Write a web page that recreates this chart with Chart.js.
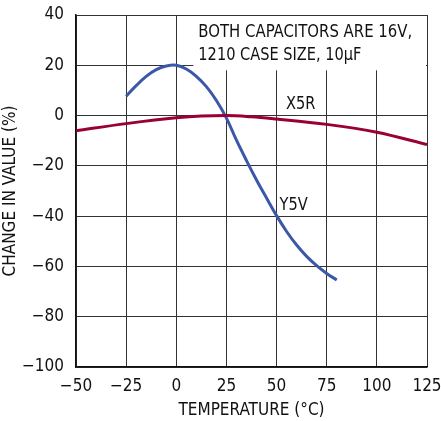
<!DOCTYPE html>
<html>
<head>
<meta charset="utf-8">
<script src="https://cdn.jsdelivr.net/npm/chart.js@4"></script>
<style>
  html, body { margin: 0; padding: 0; background: #fff; }
  #wrap { width: 441px; height: 421px; }
</style>
</head>
<body>
<div id="wrap"><canvas id="cap-chart" width="441" height="421"></canvas></div>
<script>
// temperature (C) and change in value (%)
var x5rTemp = [-50, -25, 0, 12.5, 25, 37.5, 50, 75, 100, 125];
var x5rVal  = [-6.0, -3.2, -0.9, -0.2, 0, -0.5, -1.4, -3.5, -6.6, -11.5];

var y5vTemp = [-25, -20, -15, -10, -5, 0, 5, 10, 15, 20, 25, 30, 35, 40, 45, 50, 55, 60, 65, 70, 75, 80];
var y5vVal  = [7.7, 11.9, 15.6, 18.3, 19.7, 20.0, 18.5, 15.6, 11.5, 6.0, -1.0, -9.8, -17.9, -25.6, -32.8, -39.8, -46.1, -51.5, -56.0, -59.7, -62.8, -65.4];

var xTicks = [-50, -25, 0, 25, 50, 75, 100, 125];
var yTicks = [-100, -80, -60, -40, -20, 0, 20, 40];

var noteLines = ['BOTH CAPACITORS ARE 16V,', '1210 CASE SIZE, 10\u00b5F'];

var FONT = "'DejaVu Sans Condensed', 'Liberation Sans Narrow', sans-serif";

function pts(xs, ys) {
    var out = [];
    for (var i = 0; i < xs.length; i++) out.push({x: xs[i], y: ys[i]});
    return out;
}

function minus(v) {
    return String(v).replace('-', '\u2212');
}

// draw text squeezed a little sideways, the reference uses a condensed face
function narrowText(ctx, txt, x, y, sx) {
    ctx.save();
    ctx.translate(x, y);
    ctx.scale(sx, 1);
    ctx.fillText(txt, 0, 0);
    ctx.restore();
}

// white note box + curve labels
var notes = {
    id: 'notes',
    beforeDatasetsDraw: function (chart) {
        var ctx = chart.ctx, xs = chart.scales.x, ys = chart.scales.y, a = chart.chartArea;
        var l = xs.getPixelForValue(8.5), t = a.top + 1;
        var b = ys.getPixelForValue(18);
        ctx.save();
        ctx.fillStyle = '#fff';
        ctx.fillRect(l, t, a.right - 1 - l, b - t);
        ctx.restore();
    },
    afterDatasetsDraw: function (chart) {
        var ctx = chart.ctx, xs = chart.scales.x, ys = chart.scales.y;
        ctx.save();
        ctx.fillStyle = '#111';
        ctx.font = '18px ' + FONT;
        ctx.textBaseline = 'middle';
        ctx.textAlign = 'left';
        narrowText(ctx, noteLines[0], xs.getPixelForValue(11), ys.getPixelForValue(33), 0.92);
        narrowText(ctx, noteLines[1], xs.getPixelForValue(11), ys.getPixelForValue(24), 0.9);
        ctx.textAlign = 'center';
        narrowText(ctx, 'X5R', xs.getPixelForValue(62), ys.getPixelForValue(4.4), 0.9);
        narrowText(ctx, 'Y5V', xs.getPixelForValue(58.5), ys.getPixelForValue(-35.5), 0.9);
        ctx.restore();
    }
};

new Chart(document.getElementById('cap-chart'), {
    type: 'line',
    data: {
        datasets: [
            {
                label: 'X5R',
                data: pts(x5rTemp, x5rVal),
                borderColor: '#990033',
                borderWidth: 3,
                pointRadius: 0,
                cubicInterpolationMode: 'monotone'
            },
            {
                label: 'Y5V',
                data: pts(y5vTemp, y5vVal),
                borderColor: '#3b57a8',
                borderWidth: 3,
                pointRadius: 0,
                tension: 0.4
            }
        ]
    },
    options: {
        responsive: false,
        animation: false,
        layout: { padding: { top: 15, right: 14, left: 0, bottom: 0 } },
        plugins: {
            legend: { display: false },
            tooltip: { enabled: false }
        },
        scales: {
            x: {
                type: 'linear',
                min: -50,
                max: 125,
                afterBuildTicks: function (s) { s.ticks = xTicks.map(function (v) { return {value: v}; }); },
                ticks: {
                    color: '#111',
                    font: { family: FONT, size: 17 },
                    padding: 9,
                    maxRotation: 0,
                    callback: function (v) { return minus(v); }
                },
                grid: { color: '#333', lineWidth: 1, drawTicks: false },
                border: { color: '#111', width: 1.5 },
                title: {
                    display: true,
                    text: 'TEMPERATURE (\u00b0C)',
                    color: '#111',
                    font: { family: FONT, size: 17 },
                    padding: { top: 11, bottom: 0 }
                },
                afterFit: function (s) {
                    s.height = 54;
                    s.paddingLeft = 0;
                    s.paddingRight = 0;
                }
            },
            y: {
                min: -100,
                max: 40,
                afterBuildTicks: function (s) { s.ticks = yTicks.map(function (v) { return {value: v}; }); },
                ticks: {
                    color: '#111',
                    font: { family: FONT, size: 17 },
                    padding: 12,
                    callback: function (v) { return minus(v); }
                },
                grid: { color: '#333', lineWidth: 1, drawTicks: false },
                border: { color: '#111', width: 1.5 },
                title: {
                    display: true,
                    text: 'CHANGE IN VALUE (%)',
                    color: '#111',
                    font: { family: FONT, size: 17 },
                    padding: { top: 0, bottom: 3 }
                },
                afterFit: function (s) {
                    s.width = 76;
                    s.paddingTop = 0;
                    s.paddingBottom = 0;
                }
            }
        }
    },
    plugins: [notes]
});
</script>
</body>
</html>
